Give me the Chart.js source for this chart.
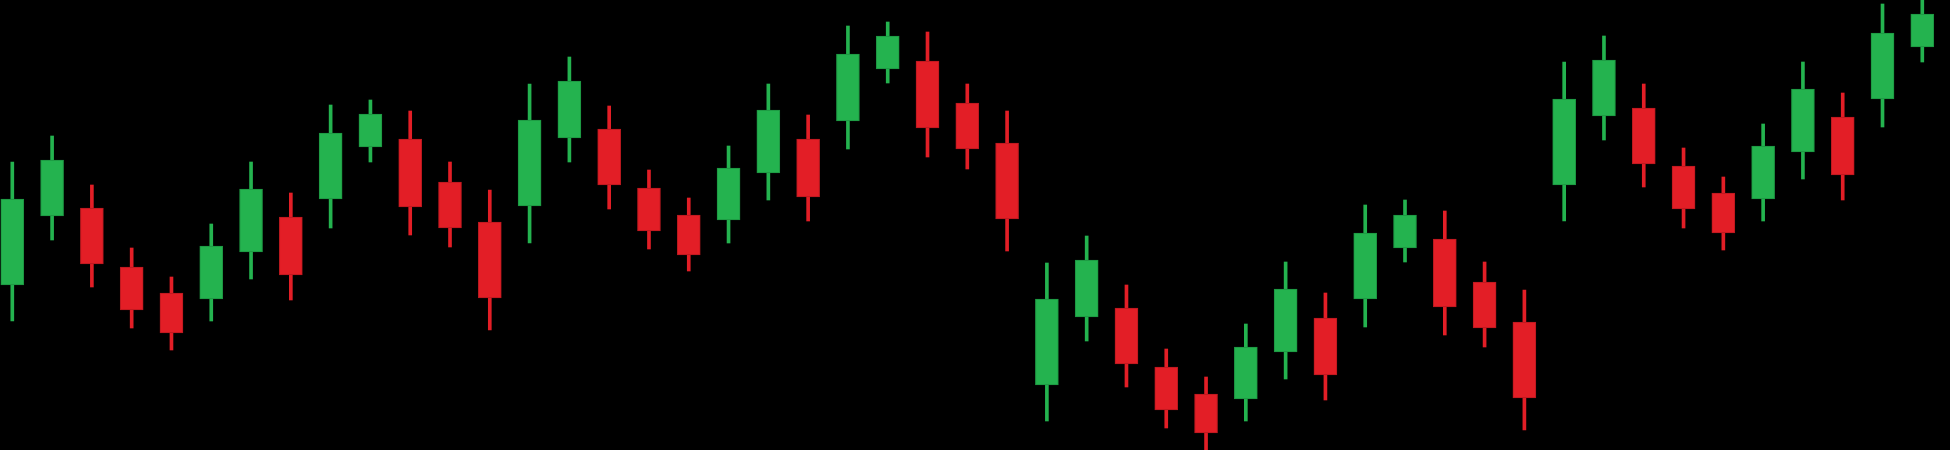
<!DOCTYPE html>
<html>
<head>
<meta charset="utf-8">
<script src="https://cdn.jsdelivr.net/npm/chart.js@4/dist/chart.umd.min.js"></script>
<style>
  html, body { margin: 0; padding: 0; background: #000000; }
  #wrap { width: 1950px; height: 450px; position: relative; background: #000000; }
</style>
</head>
<body>
<div id="wrap"><canvas id="c"></canvas></div>
<script>
// Candle index (no axis labels are shown on the chart)
const categories = Array.from({length: 49}, (_, i) => String(i + 1));

// OHLC values (arbitrary price units)
const openValues = [116.5,123.4,124.2,118.3,115.7,115.1,119.8,123.3,125.1,130.3,131.1,126.8,122.8,
  124.4,131.2,132.1,126.2,123.5,123.0,127.7,131.1,132.9,138.1,138.9,134.7,130.7,
  106.5,113.3,114.2,108.3,105.6,105.1,109.8,113.2,115.1,120.2,121.1,116.8,112.8,
  126.5,133.4,134.2,128.4,125.7,125.1,129.8,133.3,135.1,140.3];
const highValues = [128.8,131.4,126.5,120.2,117.3,122.6,128.8,125.7,134.5,135.0,133.9,128.8,126.0,
  136.6,139.3,134.4,128.0,125.2,130.4,136.6,133.5,142.4,142.8,141.8,136.6,133.9,
  118.7,121.4,116.5,110.1,107.3,112.6,118.8,115.7,124.5,125.0,123.9,118.8,116.0,
  138.8,141.4,136.6,130.2,127.3,132.6,138.8,135.7,144.6,145.5];
const lowValues = [112.9,121.0,116.3,112.2,110.0,112.9,117.1,115.0,122.2,128.8,121.5,120.3,112.0,
  120.7,128.8,124.1,120.1,117.9,120.7,125.0,122.9,130.1,136.7,129.3,128.1,119.9,
  102.9,110.9,106.3,102.2,99.5,102.9,107.1,105.0,112.3,118.8,111.5,110.3,102.0,
  122.9,131.0,126.3,122.2,120.0,122.9,127.1,125.0,132.3,138.8];
const closeValues = [125.1,129.0,118.6,114.0,111.7,120.4,126.1,117.5,131.7,133.6,124.3,122.2,115.2,
  133.0,136.9,126.5,121.9,119.5,128.2,134.0,125.3,139.6,141.4,132.2,130.1,123.1,
  115.1,119.0,108.6,104.0,101.7,110.3,116.1,107.5,121.7,123.5,114.3,112.2,105.2,
  135.1,139.0,128.6,124.1,121.7,130.4,136.1,127.5,141.7,143.6];

const UP = '#24b34f', UP_EDGE = '#1d9441';
const DOWN = '#e31e26', DOWN_EDGE = '#b8191f';

const isUp = openValues.map((o, i) => closeValues[i] >= o);
const bodies = openValues.map((o, i) => [Math.min(o, closeValues[i]), Math.max(o, closeValues[i])]);
const wicks = lowValues.map((l, i) => [l, highValues[i]]);

new Chart(document.getElementById('c'), {
  type: 'bar',
  data: {
    labels: categories,
    datasets: [
      {
        label: 'body',
        data: bodies,
        grouped: false,
        barThickness: 23,
        backgroundColor: isUp.map(u => u ? UP : DOWN),
        borderColor: isUp.map(u => u ? UP_EDGE : DOWN_EDGE),
        borderWidth: 1,
        borderSkipped: false,
        clip: false
      },
      {
        label: 'wick',
        data: wicks,
        grouped: false,
        barThickness: 3,
        backgroundColor: isUp.map(u => u ? UP : DOWN),
        borderWidth: 0,
        clip: false
      }
    ]
  },
  options: {
    responsive: true,
    maintainAspectRatio: false,
    animation: false,
    layout: { padding: { left: 12.3, right: 27.7, top: 0, bottom: 0 } },
    plugins: { legend: { display: false }, tooltip: { enabled: false } },
    scales: {
      x: { type: 'category', offset: false, display: false, grid: { display: false } },
      y: { type: 'linear', min: 100, max: 145, display: false, grid: { display: false } }
    }
  }
});
</script>
</body>
</html>
